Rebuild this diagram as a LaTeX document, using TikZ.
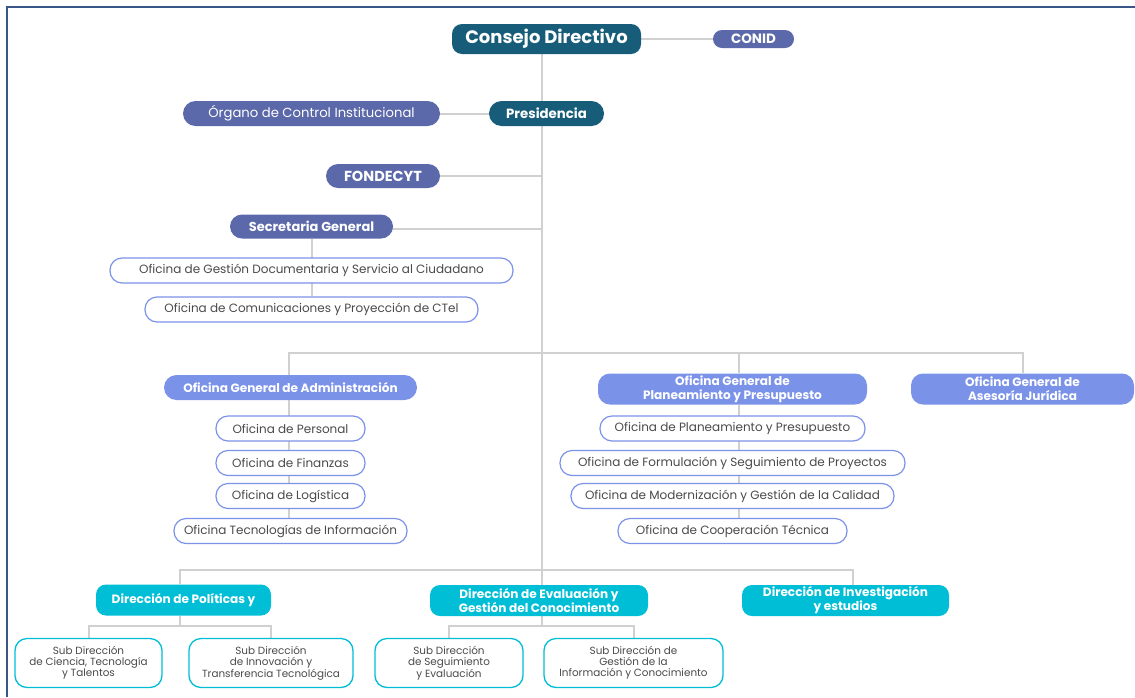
\documentclass[tikz,border=0pt]{standalone}
\usepackage{fontspec}
\setmainfont{Poppins}
\usetikzlibrary{backgrounds}
\definecolor{cTeal}{HTML}{175D7A}
\definecolor{cSlate}{HTML}{5B68A9}
\definecolor{cCorn}{HTML}{7B92E9}
\definecolor{cCyan}{HTML}{00BED6}
\definecolor{cLine}{HTML}{D0D0D0}
\definecolor{cText}{HTML}{4A4A4A}
\definecolor{cFrame}{HTML}{3A5688}
\tikzset{
  box/.style={inner sep=0pt, align=center, anchor=center},
  teal/.style={box, fill=cTeal, text=white, font=\bfseries\fontsize{13.3}{15}\selectfont},
  slate/.style={box, fill=cSlate, text=white, font=\bfseries\fontsize{13}{15}\selectfont},
  slatereg/.style={box, fill=cSlate, text=white, font=\fontsize{13.2}{15}\selectfont},
  corn/.style={box, fill=cCorn, text=white, font=\bfseries\fontsize{12.1}{14}\selectfont},
  office/.style={box, fill=white, draw=cCorn, line width=1.2pt, rounded corners=12pt, minimum height=25pt, text=cText, font=\fontsize{12}{14}\selectfont},
  cyanbox/.style={box, fill=cCyan, text=white, rounded corners=10pt, minimum height=31pt, font=\bfseries\fontsize{12.1}{13}\selectfont},
  subbox/.style={box, fill=white, draw=cCyan, line width=1.3pt, rounded corners=12pt, minimum height=49pt, text=cText, font=\fontsize{10.4}{10.8}\selectfont},
  conn/.style={draw=cLine, line width=2pt}
}
\begin{document}
\begin{tikzpicture}[x=1pt,y=-1pt]
\useasboundingbox (0,0) rectangle (1135,697);
\draw[cFrame, line width=1.5pt] (7,697) -- (7,7) -- (1135,7);

% top
\node[teal, minimum width=189pt, minimum height=30pt, rounded corners=10pt, font=\bfseries\fontsize{18}{20}\selectfont] (consejo) at (546.5,39) {Consejo Directivo};
\node[slate, minimum width=81pt, minimum height=18pt, rounded corners=9pt, font=\bfseries\fontsize{13.5}{15}\selectfont] (conid) at (753.5,39) {CONID};
\node[teal, minimum width=115pt, minimum height=25pt, rounded corners=12.5pt] (pres) at (546.5,113.5) {Presidencia};
\node[slatereg, minimum width=257pt, minimum height=25pt, rounded corners=12.5pt] (organo) at (311.5,113.5) {Órgano de Control Institucional};
\node[slate, minimum width=114pt, minimum height=24pt, rounded corners=12pt, font=\bfseries\fontsize{14.5}{16}\selectfont] (fondecyt) at (383,176) {FONDECYT};
\node[slate, minimum width=163pt, minimum height=24pt, rounded corners=12pt] (secgen) at (311.5,226.5) {Secretaria General};
\node[office, minimum width=403pt] (ogd) at (311.5,270.5) {Oficina de Gestión Documentaria y Servicio al Ciudadano};
\node[office, minimum width=333pt] (ocom) at (311.5,309.5) {Oficina de Comunicaciones y Proyección de CTel};

% OGA
\node[corn, minimum width=253pt, minimum height=25pt, rounded corners=12.5pt] (oga) at (290.5,387.5) {Oficina General de Administración};
\node[office, minimum width=149pt] (opers) at (290.5,428.5) {Oficina de Personal};
\node[office, minimum width=149pt] (ofin) at (290.5,463) {Oficina de Finanzas};
\node[office, minimum width=149pt] (olog) at (290.5,496) {Oficina de Logística};
\node[office, minimum width=233pt] (otic) at (290.5,531) {Oficina Tecnologías de Información};

% OGPP
\node[corn, minimum width=269pt, minimum height=31pt, rounded corners=12pt] (ogpp) at (732.5,389) {Oficina General de\\Planeamiento y Presupuesto};
\node[office, minimum width=265pt] (oplan) at (732.5,428.5) {Oficina de Planeamiento y Presupuesto};
\node[office, minimum width=345pt] (oform) at (732.5,463) {Oficina de Formulación y Seguimiento de Proyectos};
\node[office, minimum width=323pt] (omod) at (732.5,496) {Oficina de Modernización y Gestión de la Calidad};
\node[office, minimum width=229pt] (ocoop) at (732.5,531) {Oficina de Cooperación Técnica};

% OGAJ
\node[corn, minimum width=223pt, minimum height=31pt, rounded corners=12pt] (ogaj) at (1022.5,389) {Oficina General de\\Asesoría Jurídica};

% Direcciones
\node[cyanbox, minimum width=175pt] (dpol) at (183.5,600) {Dirección de Políticas y};
\node[cyanbox, minimum width=218pt] (deval) at (539,600.5) {Dirección de Evaluación y\\Gestión del Conocimiento};
\node[cyanbox, minimum width=207pt] (dinv) at (845.5,600.5) {Dirección de Investigación\\y estudios};

\node[subbox, minimum width=147pt] (sd1) at (88.5,663) {Sub Dirección\\de Ciencia, Tecnología\\y Talentos};
\node[subbox, minimum width=164pt] (sd2) at (271,663) {Sub Dirección\\de Innovación y\\Transferencia Tecnológica};
\node[subbox, minimum width=148pt] (sd3) at (449,663) {Sub Dirección\\de Seguimiento\\y Evaluación};
\node[subbox, minimum width=179pt] (sd4) at (633.5,663) {Sub Dirección de\\Gestión de la\\Información y Conocimiento};

% helper coordinates
\coordinate (tk) at (542,570);
\coordinate (ba) at (0,353);
\coordinate (pa) at (289,0);
\coordinate (pl) at (739,0);
\coordinate (xp) at (180,0);
\coordinate (xi) at (853,0);
\coordinate (sb) at (0,626);
\coordinate (sy) at (0,229);

\begin{scope}[on background layer]
\draw[conn] (consejo) -- (conid);
\draw[conn] (consejo.south -| tk) -- (deval.north -| tk);
\draw[conn] (organo) -- (pres);
\draw[conn] (fondecyt.east) -- (fondecyt.east -| tk);
\draw[conn] (secgen.center |- sy) -- (tk |- sy);
\draw[conn] (secgen) -- (ocom);
\draw[conn] (pa |- oga.north) -- (pa |- ba) -- (ogaj.north |- ba) -- (ogaj.north);
\draw[conn] (pl |- ba) -- (pl |- ogpp.north);
\draw[conn] (pa |- oga.south) -- (pa |- otic.north);
\draw[conn] (pl |- ogpp.south) -- (pl |- ocoop.north);
\draw[conn] (xp |- dpol.north) -- (xp |- tk) -- (xi |- tk) -- (xi |- dinv.north);
\draw[conn] (xp |- dpol.south) -- (xp |- sb);
\draw[conn] (sd1.north) -- (sd1.north |- sb) -- (sd2.north |- sb) -- (sd2.north);
\draw[conn] (tk |- deval.south) -- (tk |- sb);
\draw[conn] (sd3.north) -- (sd3.north |- sb) -- (sd4.north |- sb) -- (sd4.north);
\end{scope}
\end{tikzpicture}
\end{document}
